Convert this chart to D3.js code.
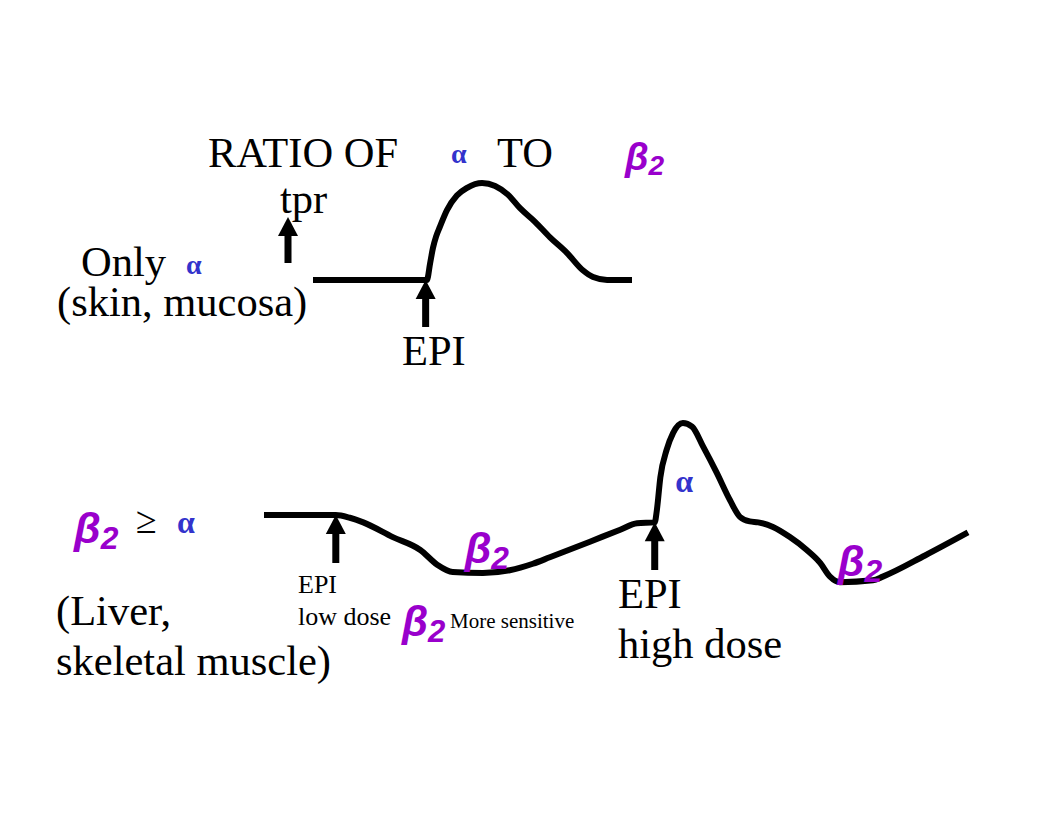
<!DOCTYPE html>
<html>
<head>
<meta charset="utf-8">
<script src="https://cdn.jsdelivr.net/npm/d3@7"></script>
<style>
  html, body { margin: 0; padding: 0; background: #fff; }
  svg { display: block; }
</style>
</head>
<body>
<div id="chart"></div>
<script>
// top panel: only alpha receptors (skin, mucosa) -- tpr vs time
const topTime  = [0, 35.7, 36.7, 37.6, 38.6, 39.8, 42, 45.1, 48.3, 53, 57.1, 61.1, 64.9, 69.6, 74.3, 79.6, 84.6, 87.8, 92.2, 100];
const topValue = [0, 0, 17, 33, 45, 55, 72, 87, 95, 100, 97, 88, 74, 60, 44, 28, 10, 3, 0, 0];

// bottom panel: beta2 >= alpha (liver, skeletal muscle)
const botTime  = [0, 10.2, 12.2, 14.1, 18.3, 22.2, 24.6, 26.8, 31.1, 34.9, 38.2, 40.6, 46.3, 50.6, 53, 55.5, 55.8, 56.3, 57.2, 58.1, 59.5, 60.8, 62.4, 64.3, 66.2, 67.6, 69, 70.2, 72.3, 74.7, 77.1, 79, 80.4, 81.8, 86.5, 87.9, 93.9, 100];
const botValue = [0, 0, -3, -8, -24, -38, -54, -62, -63, -60, -53, -46, -29, -16, -9, -8, 5, 41, 71, 89, 100, 96, 74, 46, 16, -2, -7, -8, -13, -24, -38, -52, -67, -73, -71, -67, -44, -19];

// injection times
const topDoses = [35];
const botDoses = [10.2, 55.5];

const width = 1056, height = 816;
const ink = '#000', alphaBlue = '#3333cc', betaPurple = '#9900cc';
const serif = '"Liberation Serif", "Times New Roman", serif';
const sans = '"Liberation Sans", Arial, sans-serif';
const big = 42.5;

const svg = d3.select('#chart').append('svg')
  .attr('width', width)
  .attr('height', height);

const xTop = d3.scaleLinear().domain([0, 100]).range([313, 632]);
const yTop = d3.scaleLinear().domain([0, 100]).range([280, 183]);
const xBot = d3.scaleLinear().domain([0, 100]).range([264, 968]);
const yBot = d3.scaleLinear().domain([0, 100]).range([515, 423]);

function drawCurve(T, V, x, y) {
  const pts = T.map((t, i) => [t, V[i]]);
  svg.append('path')
    .datum(pts)
    .attr('fill', 'none')
    .attr('stroke', ink)
    .attr('stroke-width', 6)
    .attr('stroke-linejoin', 'round')
    .attr('d', d3.line().x(d => x(d[0])).y(d => y(d[1])).curve(d3.curveMonotoneX));
}

// upward arrow: tip at (cx, tip), shaft down to bottom
function arrow(cx, tip, bottom) {
  const g = svg.append('g').attr('fill', ink);
  g.append('rect')
    .attr('x', cx - 3.5).attr('y', tip + 15)
    .attr('width', 7).attr('height', bottom - tip - 15);
  g.append('path')
    .attr('d', `M${cx},${tip}L${cx + 10},${tip + 19}L${cx - 10},${tip + 19}Z`);
}

function label(x, y, str, size, opts = {}) {
  return svg.append('text')
    .attr('x', x).attr('y', y)
    .attr('font-family', opts.family || serif)
    .attr('font-size', size)
    .attr('font-weight', opts.weight || 'normal')
    .attr('font-style', opts.style || 'normal')
    .attr('fill', opts.color || ink)
    .text(str);
}

function beta2(x, y, size) {
  const t = svg.append('text')
    .attr('x', x).attr('y', y)
    .attr('font-family', sans)
    .attr('font-weight', 'bold')
    .attr('font-style', 'italic')
    .attr('fill', betaPurple)
    .attr('font-size', size);
  t.append('tspan').text('β');
  t.append('tspan').attr('font-size', size * 0.74).attr('dy', size * 0.14).text('2');
  return t;
}

function alpha(x, y, size) {
  return label(x, y, 'α', size, { weight: 'bold', color: alphaBlue });
}

// ---- top panel ----
drawCurve(topTime, topValue, xTop, yTop);
topDoses.forEach(t => arrow(xTop(t) + 1, yTop(0), 327));

label(208, 167, 'RATIO OF', big);
alpha(451, 163, 28);
label(497, 167, 'TO', big);
beta2(625, 170, 38);
label(280, 213, 'tpr', big);
arrow(288, 217, 263);

label(81, 276, 'Only', big);
alpha(186, 274, 28);
label(57, 316, '(skin, mucosa)', big);
label(402, 365, 'EPI', big);

// ---- bottom panel ----
drawCurve(botTime, botValue, xBot, yBot);
arrow(xBot(botDoses[0]), yBot(0), 563);
arrow(xBot(botDoses[1]), yBot(-8), 570);

beta2(74, 543, 43);
label(136, 533, '≥', 38);
alpha(177, 533, 32);
label(56, 625, '(Liver,', big);
label(56, 675, 'skeletal muscle)', big);

beta2(xBot(28.5), yBot(-52), 43);
alpha(xBot(58.4), yBot(25), 32);
beta2(xBot(81.5), yBot(-66), 43);

label(298, 593, 'EPI', 26);
label(298, 625, 'low dose', 26);
beta2(402, 636, 42);
label(450, 628, 'More sensitive', 21);

label(618, 608, 'EPI', big);
label(618, 658, 'high dose', big);
</script>
</body>
</html>
